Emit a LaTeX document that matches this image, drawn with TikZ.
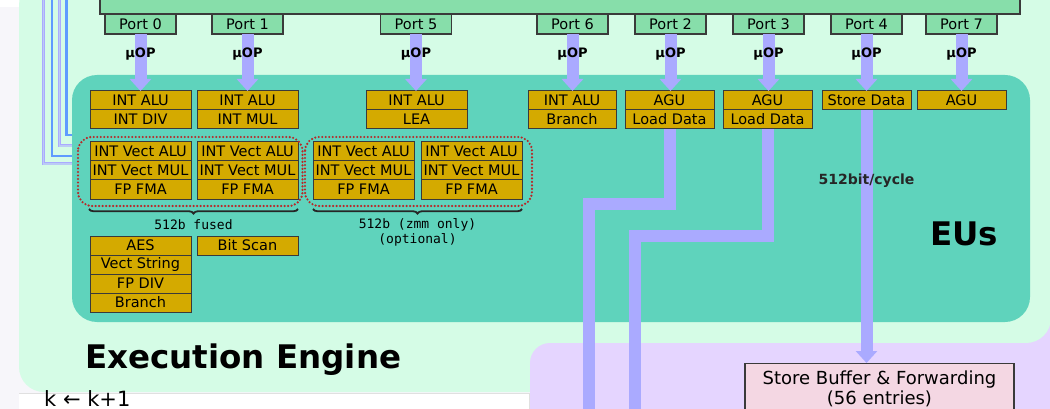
\documentclass[tikz,border=0pt]{standalone}
\usepackage{fontspec}
\setmainfont{DejaVu Sans}
\setmonofont{DejaVu Sans Mono}
\usetikzlibrary{arrows.meta,decorations.pathreplacing}
\definecolor{pagebg}{HTML}{F7F6FA}
\definecolor{mintbg}{HTML}{D5FCE6}
\definecolor{euteal}{HTML}{5FD3BC}
\definecolor{gold}{HTML}{D4AA00}
\definecolor{portgreen}{HTML}{87DEAA}
\definecolor{uop}{HTML}{AAAAFF}
\definecolor{lav}{HTML}{E5D5FF}
\definecolor{sbpink}{HTML}{F4D7E3}
\definecolor{dotred}{HTML}{B82828}
\definecolor{lineblue}{HTML}{5F9BFF}
\definecolor{edge}{HTML}{3A3A3A}
\begin{document}
\begin{tikzpicture}[x=1pt,y=-1pt,
  portbox/.style={draw=edge, line width=1.2pt, fill=portgreen, minimum width=71pt, minimum height=20pt,
    inner sep=0pt, outer sep=0pt, font=\fontsize{14.5}{16}\selectfont},
  eubox/.style={draw=edge, line width=1pt, fill=gold, minimum height=19pt, inner sep=0pt, outer sep=0pt,
    font=\fontsize{14.5}{16}\selectfont},
  wa/.style={eubox, minimum width=101pt},
  wb/.style={eubox, minimum width=88pt},
  wc/.style={eubox, minimum width=89pt},
  uarrow/.style={draw=uop, line width=12pt, -{Triangle[width=21pt,length=12pt]}},
  datapath/.style={draw=uop, line width=12pt, line join=miter},
  uoplbl/.style={font=\bfseries\fontsize{13}{14}\selectfont, text=black, inner sep=0pt},
  lavline/.style={draw=uop, line width=0.9pt, double=mintbg!40!uop, double distance=1.2pt},
  blueline/.style={draw=lineblue, line width=2.2pt},
  dotgrp/.style={draw=dotred, line width=2.4pt, dash pattern=on 0pt off 3.5pt, line cap=round, rounded corners=14pt},
  bracestyle/.style={draw=black!85, line width=1.8pt, decorate, decoration={brace, mirror, amplitude=4.5pt}},
  grplbl/.style={font=\ttfamily\fontsize{13}{15}\selectfont, align=center, inner sep=0pt},
  biglbl/.style={font=\bfseries\fontsize{32.5}{35}\selectfont, inner sep=0pt, anchor=base west},
  sbbox/.style={draw=edge, line width=1.2pt, fill=sbpink, minimum width=269pt, inner xsep=0pt, inner ysep=7pt,
    align=center, font=\fontsize{18}{20}\selectfont, anchor=north}
]
\useasboundingbox (0,0) rectangle (1050,409);
\clip (0,0) rectangle (1050,409);
% page and regions
\fill[pagebg] (0,0) rectangle (1050,409);
\fill[white] (0,0) rectangle (1050,7);
\fill[lav] (1000,300) rectangle (1060,420);
\fill[mintbg, rounded corners=25pt] (19,-20) -- (1051,-20) -- (1051,343) -- (560,343) -- (560,392) -- (19,392) -- cycle;
\fill[white] (19,393) rectangle (529,420);
\draw[black!12, line width=0.8pt] (19,393.5) -- (529,393.5) -- (529,409);
\fill[lav, rounded corners=20pt] (530,343) rectangle (1100,460);
% left incoming lines
\coordinate (l1s) at (43.5,0);  \coordinate (l1e) at (80,164);
\coordinate (l2s) at (52,0);    \coordinate (l2e) at (80,156);
\coordinate (l3s) at (59.5,0);  \coordinate (l3e) at (80,146);
\coordinate (l4s) at (66.5,0);  \coordinate (l4e) at (80,135);
\draw[lavline] (l1s) |- (l1e);
\draw[blueline] (l2s) |- (l2e);
\draw[lavline] (l3s) |- (l3e);
\draw[blueline] (l4s) |- (l4e);
% EU region
\fill[euteal, rounded corners=25pt] (72,75) rectangle (1030,322);
% scheduler bar
\draw[fill=portgreen, draw=edge, line width=1.2pt] (100,-10) rectangle (1020,14);
% ports
\node[portbox] (p0) at (140.5,24) {Port 0};
\node[portbox] (p1) at (247.5,24) {Port 1};
\node[portbox] (p5) at (416,24) {Port 5};
\node[portbox] (p6) at (572.5,24) {Port 6};
\node[portbox] (p2) at (670.5,24) {Port 2};
\node[portbox] (p3) at (768.5,24) {Port 3};
\node[portbox] (p4) at (866.5,24) {Port 4};
\node[portbox] (p7) at (961.5,24) {Port 7};
% execution units
\node[wa] (a1) at (140.5,100.5) {INT ALU};
\node[wa] (a2) at (140.5,119.5) {INT DIV};
\node[wa] (b1) at (247.5,100.5) {INT ALU};
\node[wa] (b2) at (247.5,119.5) {INT MUL};
\node[wa] (c1) at (416.5,100.5) {INT ALU};
\node[wa] (c2) at (416.5,119.5) {LEA};
\node[wb] (d1) at (572,100.5) {INT ALU};
\node[wb] (d2) at (572,119.5) {Branch};
\node[wc] (e1) at (669.5,100.5) {AGU};
\node[wc] (e2) at (669.5,119.5) {Load Data};
\node[wc] (f1) at (767.5,100.5) {AGU};
\node[wc] (f2) at (767.5,119.5) {Load Data};
\node[wc] (g1) at (866.5,100.5) {Store Data};
\node[wc] (h1) at (961.5,100.5) {AGU};
% vector units
\node[wa] (va1) at (140.5,151.5) {INT Vect ALU};
\node[wa] (va2) at (140.5,170.5) {INT Vect MUL};
\node[wa] (va3) at (140.5,189.5) {FP FMA};
\node[wa] (vb1) at (247.5,151.5) {INT Vect ALU};
\node[wa] (vb2) at (247.5,170.5) {INT Vect MUL};
\node[wa] (vb3) at (247.5,189.5) {FP FMA};
\node[wa] (vc1) at (363.5,151.5) {INT Vect ALU};
\node[wa] (vc2) at (363.5,170.5) {INT Vect MUL};
\node[wa] (vc3) at (363.5,189.5) {FP FMA};
\node[wa] (vd1) at (471.5,151.5) {INT Vect ALU};
\node[wa] (vd2) at (471.5,170.5) {INT Vect MUL};
\node[wa] (vd3) at (471.5,189.5) {FP FMA};
\draw[dotgrp] (78,137) rectangle (302.5,206);
\draw[dotgrp] (305,137) rectangle (532,206);
\draw[bracestyle] (89,209) -- (298,209);
\draw[bracestyle] (313,209) -- (522,209);
\node[grplbl] (fusedlbl) at (193.5,225) {512b fused};
\node[grplbl, anchor=north] (zmmlbl) at (417.5,218) {512b (zmm only)\\(optional)};
% other units
\node[wa] (o1) at (140.5,245.5) {AES};
\node[wa] (o2) at (140.5,264.5) {Vect String};
\node[wa] (o3) at (140.5,283.5) {FP DIV};
\node[wa] (o4) at (140.5,302.5) {Branch};
\node[wa] (o5) at (247.5,245.5) {Bit Scan};
% store buffer
\node[sbbox] (sb) at (879.5,363) {Store Buffer \& Forwarding\\(56 entries)};
% uop arrows
\foreach \p/\u in {p0/a1, p1/b1, p5/c1, p6/d1, p2/e1, p3/f1, p4/g1, p7/h1}{
  \draw[uarrow] (\p.south) -- (\p.south |- \u.north) node[uoplbl, pos=0.36] {µOP};
}
% load data paths
\coordinate (j2) at (589,203.5); \coordinate (x2) at (589,420);
\coordinate (j3) at (635,236);   \coordinate (x3) at (635,420);
\draw[datapath] (e2.south) |- (j2) -- (x2);
\draw[datapath] (f2.south) |- (j3) -- (x3);
% store data path
\draw[uarrow] (g1.south) -- (g1.south |- sb.north)
  node[pos=0.278, font=\bfseries\fontsize{14}{15}\selectfont, text=black!85, inner sep=0pt] {512bit/cycle};
% titles
\node[biglbl] (eus) at (930,245) {EUs};
\node[biglbl] (ee) at (85,368) {Execution Engine};
\node[inner sep=0pt, anchor=base west, font=\fontsize{21}{24}\selectfont] (kk) at (44,406.5) {k ← k+1};
\end{tikzpicture}
\end{document}
